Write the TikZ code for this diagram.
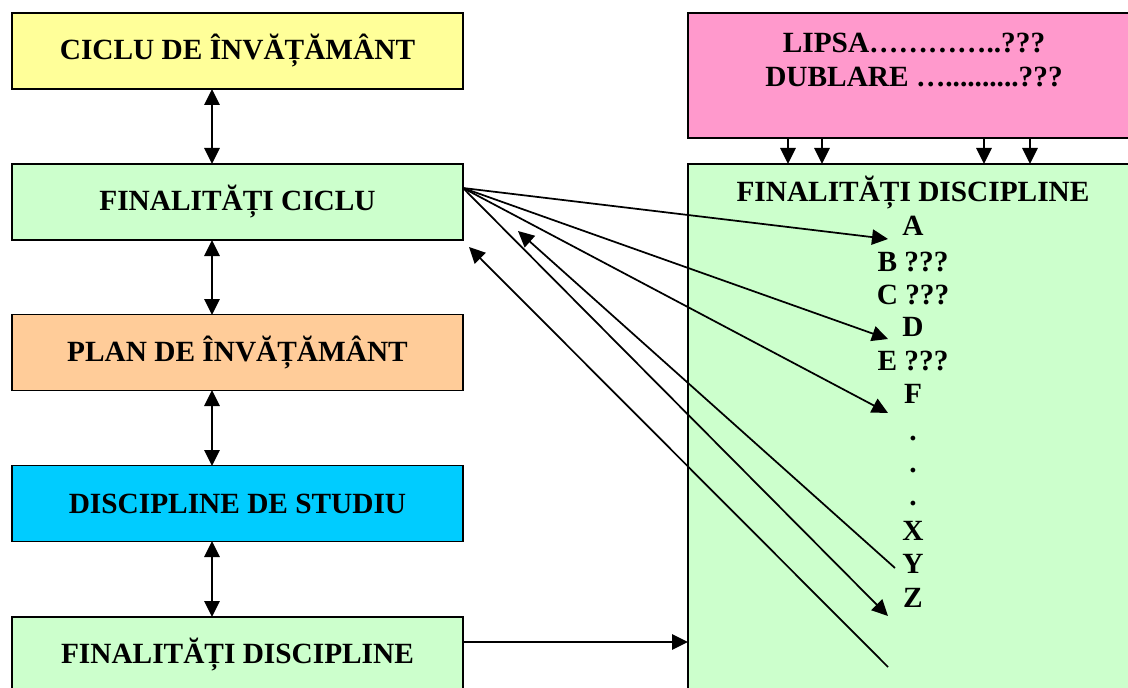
\documentclass[tikz,border=0pt]{standalone}
\usepackage{fontspec}
\setmainfont{Liberation Serif}
\usetikzlibrary{arrows.meta,calc}
\definecolor{cyel}{HTML}{FFFF99}
\definecolor{cgrn}{HTML}{CCFFCC}
\definecolor{corg}{HTML}{FFCC99}
\definecolor{ccyn}{HTML}{00CCFF}
\definecolor{cpnk}{HTML}{FF99CC}
\tikzset{
  box/.style={draw=black, line width=1.4pt, minimum width=451*0.75pt, minimum height=76*0.75pt, inner sep=0pt, font=\fontsize{22}{26}\selectfont\bfseries},
  arr/.style={line width=1.3pt, -{Triangle[length=12pt,width=11.5pt]}},
  darr/.style={line width=1.3pt, {Triangle[length=12pt,width=11.5pt]}-{Triangle[length=12pt,width=11.5pt]}},
  lett/.style={inner sep=0pt, text height=14.5pt, text depth=0pt, font=\fontsize{22}{26}\selectfont\bfseries},
}
\begin{document}
\begin{tikzpicture}[x=0.75pt,y=-0.75pt]
\useasboundingbox (0,0) rectangle (1128,688);
\clip (0,0) rectangle (1128,688);
% left column
\node[box, fill=cyel] (ciclu) at (237.5,51) {CICLU DE ÎNVĂȚĂMÂNT};
\node[box, fill=cgrn] (fc) at (237.5,202) {FINALITĂȚI CICLU};
\node[box, fill=corg] (plan) at (237.5,352.5) {PLAN DE ÎNVĂȚĂMÂNT};
\node[box, fill=ccyn] (disc) at (237.5,503.5) {DISCIPLINE DE STUDIU};
\node[box, fill=cgrn] (fd) at (237.5,655) {FINALITĂȚI DISCIPLINE};
\draw[darr] (212,89) -- (212,164);
\draw[darr] (212,240) -- (212,315);
\draw[darr] (212,390) -- (212,466);
\draw[darr] (212,541) -- (212,617);
% right column
\draw[line width=1.4pt, fill=cpnk] (688,13) rectangle (1140,138);
\node[lett] (lipsa) at (914,43) {LIPSA…………..???};
\node[lett] (dublare) at (914,77) {DUBLARE …..........???};
\draw[line width=1.4pt, fill=cgrn] (688,164) rectangle (1140,700);
\node[lett] (title) at (913,192) {FINALITĂȚI DISCIPLINE};
\node[lett] (lA) at (913,226) {A};
\node[lett] (lB) at (913,262) {B ???};
\node[lett] (lC) at (913,295) {C ???};
\node[lett] (lD) at (913,327) {D};
\node[lett] (lE) at (913,361) {E ???};
\node[lett] (lF) at (913,394) {F};
\node[lett, anchor=base] (d1) at (913,440) {.};
\node[lett, anchor=base] (d2) at (913,472) {.};
\node[lett, anchor=base] (d3) at (913,505) {.};
\node[lett] (lX) at (913,531) {X};
\node[lett] (lY) at (913,564) {Y};
\node[lett] (lZ) at (913,598) {Z};
% down arrows
\foreach \x/\n in {788/a,822/b,984/c,1030/d}{
  \coordinate (up\n) at (\x,139);
  \coordinate (dn\n) at (\x,164);
  \draw[arr] (up\n) -- (dn\n);
}
% connectors
\coordinate (src) at (463,188);
\coordinate (tA) at (888,239);
\coordinate (tD) at (888,339);
\coordinate (tF) at (888,413);
\coordinate (tZ) at (888,616);
\coordinate (sY) at (895,568);
\coordinate (hY) at (518,231);
\coordinate (sB) at (888,667);
\coordinate (hB) at (469,247);
\draw[arr] (src) -- (tA);
\draw[arr] (src) -- (tD);
\draw[arr] (src) -- (tF);
\draw[arr] (src) -- (tZ);
\draw[arr] (sY) -- (hY);
\draw[arr] (sB) -- (hB);
\coordinate (fdE) at (463,642);
\coordinate (gL) at (688,642);
\draw[arr] (fdE) -- (gL);
\end{tikzpicture}
\end{document}
